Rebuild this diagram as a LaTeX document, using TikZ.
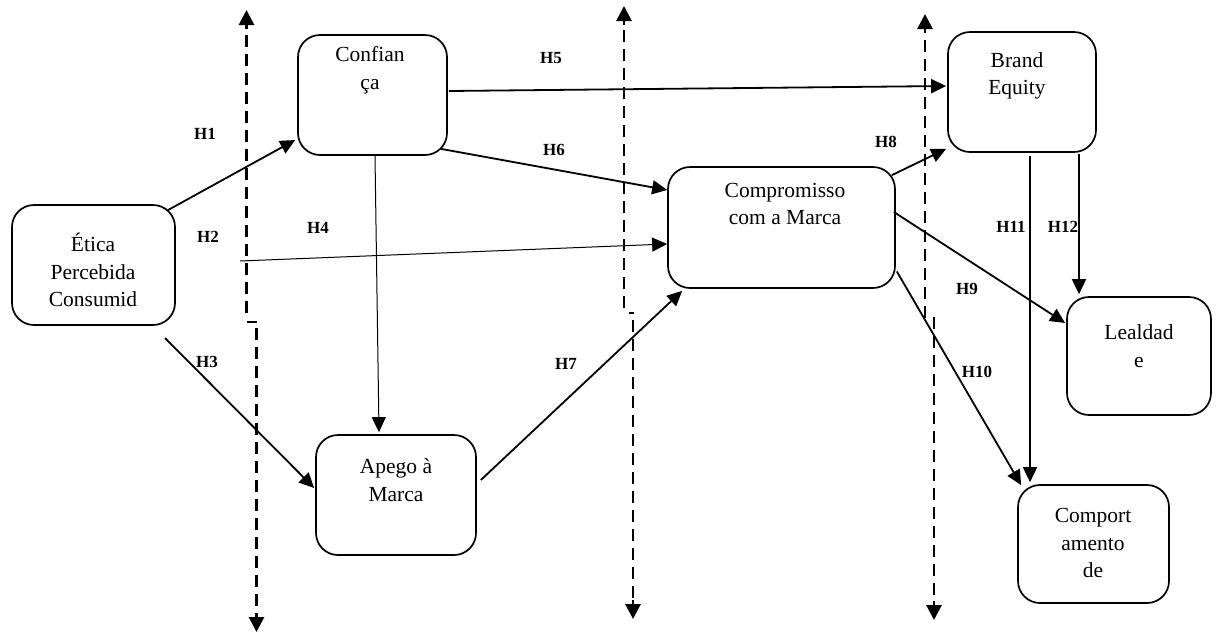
\documentclass[tikz,border=0pt]{standalone}
\usepackage{fontspec}
\setmainfont{Liberation Serif}
\usetikzlibrary{arrows.meta}
\tikzset{
  box/.style={draw, line width=1.7pt, rounded corners=22pt, inner sep=0pt},
  txt/.style={align=center, inner sep=0pt, font=\fontsize{21.5}{27.5}\selectfont},
  hlab/.style={inner sep=0pt, font=\fontsize{17}{20}\selectfont\bfseries},
  conn/.style={line width=1.8pt, -{Triangle[length=15pt,width=14pt]}},
  thinconn/.style={line width=1pt, -{Triangle[length=15pt,width=14pt]}},
  divider/.style={line width=2.8pt, dash pattern=on 12pt off 7pt},
  divtip/.style={line width=2.8pt, -{Triangle[length=15pt,width=15pt]}}
}
\begin{document}
\begin{tikzpicture}[x=1pt,y=-1pt]
\useasboundingbox (0,0) rectangle (1218,633);

% boxes
\node[box, minimum width=163pt, minimum height=120pt] (etica) at (93.5,265) {};
\node[box, minimum width=149pt, minimum height=120pt] (conf) at (372.5,95) {};
\node[box, minimum width=148pt, minimum height=120pt] (brand) at (1022,92) {};
\node[box, minimum width=227pt, minimum height=121pt] (comp) at (781.5,227.5) {};
\node[box, minimum width=144pt, minimum height=118pt] (leal) at (1139,356) {};
\node[box, minimum width=160pt, minimum height=120pt] (apego) at (396,495) {};
\node[box, minimum width=151pt, minimum height=118pt] (comport) at (1093.5,544) {};

% texts
\node[txt] (eticat) at (93,270) {Ética\\Percebida\\Consumid};
\node[txt] (conft) at (370,70) {Confian\\ça};
\node[txt] (brandt) at (1017,76) {Brand\\Equity};
\node[txt] (compt) at (785,204) {Compromisso\\com a Marca};
\node[txt] (lealt) at (1139,346) {Lealdad\\e};
\node[txt] (apegot) at (396,480) {Apego à\\Marca};
\node[txt] (comportt) at (1093,543) {Comport\\amento\\de};

% free ends
\coordinate (h4s) at (240,261);
\coordinate (h3s) at (165,338);

% connectors
\draw[conn] ([shift={(-8,6)}]etica.north east) -- ([shift={(-2,45)}]conf.west);
\draw[thinconn] (h4s) -- ([shift={(0,16.5)}]comp.west);
\draw[conn] (h3s) -- ([shift={(-1,-7)}]apego.west);
\draw[thinconn] ([shift={(2.5,0)}]conf.south) -- ([shift={(-17,-2)}]apego.north);
\draw[conn] ([shift={(1,-4)}]conf.east) -- ([shift={(-1,-6)}]brand.west);
\draw[conn] ([shift={(-7,-7)}]conf.south east) -- ([shift={(0,-37.5)}]comp.west);
\draw[conn] ([shift={(4,-15)}]apego.east) -- ([shift={(15,2)}]comp.south west);
\draw[conn] ([shift={(-4,9)}]comp.north east) -- ([shift={(-1,-4)}]brand.south west);
\draw[conn] ([shift={(-2,-15.5)}]comp.east) -- ([shift={(-1,-33)}]leal.west);
\draw[conn] ([shift={(1,44)}]comp.east) -- ([shift={(4,1)}]comport.north west);
\draw[conn] ([shift={(8,3)}]brand.south) -- ([shift={(-63.5,-2)}]comport.north);
\draw[conn] ([shift={(57,1)}]brand.south) -- ([shift={(-60,-2)}]leal.north);

% labels
\node[hlab] (l1) at (205,134) {H1};
\node[hlab] (l2) at (208,237) {H2};
\node[hlab] (l3) at (207,362) {H3};
\node[hlab] (l4) at (318,228) {H4};
\node[hlab] (l5) at (551,58) {H5};
\node[hlab] (l6) at (554,150) {H6};
\node[hlab] (l7) at (566,364) {H7};
\node[hlab] (l8) at (886,142) {H8};
\node[hlab] (l9) at (967,289) {H9};
\node[hlab] (l10) at (977,372) {H10};
\node[hlab] (l11) at (1011,227) {H11};
\node[hlab] (l12) at (1063,227) {H12};

% dashed dividers
\coordinate (d1t) at (246.5,10);
\coordinate (d1a) at (246.5,313);
\coordinate (d1b) at (246.5,322);
\coordinate (d1c) at (257,322);
\coordinate (d1d) at (256.5,328);
\coordinate (d1e) at (256.5,632);
\draw[divider] (d1a) -- ([shift={(0,18)}]d1t);
\draw[divtip] ([shift={(0,19)}]d1t) -- (d1t);
\draw[line width=2.8pt] (d1b) -- (d1c);
\draw[divider] (d1d) -- ([shift={(0,-18)}]d1e);
\draw[divtip] ([shift={(0,-19)}]d1e) -- (d1e);

\coordinate (d2t) at (624,6);
\coordinate (d2a) at (624,308);
\coordinate (d2b) at (629,313);
\coordinate (d2c) at (634,313);
\coordinate (d2d) at (633,320);
\coordinate (d2e) at (633,619);
\draw[divider] (d2a) -- ([shift={(0,18)}]d2t);
\draw[divtip] ([shift={(0,19)}]d2t) -- (d2t);
\draw[line width=2.8pt] (d2b) -- (d2c);
\draw[divider] (d2d) -- ([shift={(0,-18)}]d2e);
\draw[divtip] ([shift={(0,-19)}]d2e) -- (d2e);

\coordinate (d3t) at (925,14);
\coordinate (d3a) at (925,318);
\coordinate (d3d) at (934,317);
\coordinate (d3e) at (934,620);
\draw[divider] (d3a) -- ([shift={(0,18)}]d3t);
\draw[divtip] ([shift={(0,19)}]d3t) -- (d3t);
\draw[divider] (d3d) -- ([shift={(0,-18)}]d3e);
\draw[divtip] ([shift={(0,-19)}]d3e) -- (d3e);
\end{tikzpicture}
\end{document}
